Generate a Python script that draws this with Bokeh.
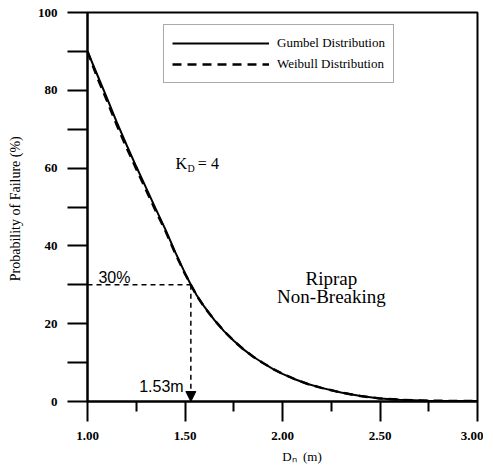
from bokeh.plotting import figure
from bokeh.models import (Range1d, Legend, LegendItem, Label, Arrow, NormalHead,
                          FixedTicker, ColumnDataSource)
from bokeh.embed import file_html
from bokeh.resources import INLINE

# ---- data ----
diam = [1.00, 1.05, 1.10, 1.15, 1.20, 1.25, 1.30, 1.35, 1.40, 1.45, 1.50, 1.53,
        1.56, 1.60, 1.65, 1.70, 1.75, 1.80, 1.85, 1.90, 1.95, 2.00, 2.06, 2.13,
        2.20, 2.30, 2.40, 2.50, 2.60, 2.75, 3.00]
gumbel = [90.0, 84.0, 78.0, 71.8, 66.0, 60.4, 55.0, 49.5, 44.2, 38.4, 33.0, 30.0,
          27.3, 24.3, 21.0, 18.1, 15.6, 13.4, 11.5, 9.9, 8.4, 7.1, 5.8, 4.5,
          3.5, 2.3, 1.4, 0.8, 0.45, 0.2, 0.1]
weibull = [90.0, 83.3, 77.3, 71.1, 65.3, 59.8, 54.4, 49.0, 43.8, 38.1, 32.8, 30.0,
           27.2, 24.2, 21.0, 18.1, 15.6, 13.4, 11.5, 9.9, 8.4, 7.1, 5.8, 4.5,
           3.5, 2.3, 1.4, 0.8, 0.45, 0.2, 0.1]
target_prob = 30.0
target_diam = 1.53
x_ticks = [1.0, 1.5, 2.0, 2.5, 3.0]
x_minor = [1.25, 1.75, 2.25, 2.75]
y_ticks = [0, 20, 40, 60, 80, 100]
y_minor = [10, 30, 50, 70, 90]
x_tick_labels = {1.0: "1.00", 1.5: "1.50", 2.0: "2.00", 2.5: "2.50", 3.0: "3.00"}

SERIF = "Liberation Serif"
SANS = "Liberation Sans"

p = figure(frame_width=390, frame_height=389, output_backend="svg",
           toolbar_location=None, x_range=Range1d(1.0, 3.0), y_range=Range1d(0, 100),
           min_border_left=87, min_border_right=6, min_border_top=12, min_border_bottom=52)
p.background_fill_color = "white"
p.border_fill_color = "white"
p.outline_line_color = "black"
p.outline_line_width = 2
p.xgrid.visible = False
p.ygrid.visible = False

# axes
xa = p.xaxis[0]
xa.ticker = FixedTicker(ticks=x_ticks, minor_ticks=x_minor)
xa.major_label_overrides = x_tick_labels
xa.major_tick_in = 0
xa.major_tick_out = 20
xa.minor_tick_in = 0
xa.minor_tick_out = 10
xa.axis_line_width = 2
xa.major_tick_line_width = 2
xa.minor_tick_line_width = 2
xa.major_label_text_font = SERIF
xa.major_label_text_font_style = "bold"
xa.major_label_text_font_size = "13px"
xa.major_label_text_color = "black"
xa.major_label_standoff = 10
xa.axis_label = "\u00a0" * 12 + "Dₙ\u00a0\u00a0(m)"
xa.axis_label_text_font = SERIF
xa.axis_label_text_font_style = "normal"
xa.axis_label_text_font_size = "13px"
xa.axis_label_text_color = "black"
xa.axis_label_standoff = 6

ya = p.yaxis[0]
ya.ticker = FixedTicker(ticks=y_ticks, minor_ticks=y_minor)
ya.major_tick_in = 0
ya.major_tick_out = 20
ya.minor_tick_in = 0
ya.minor_tick_out = 20
ya.axis_line_width = 2
ya.major_tick_line_width = 2
ya.minor_tick_line_width = 2
ya.major_label_text_font = SERIF
ya.major_label_text_font_style = "bold"
ya.major_label_text_font_size = "13px"
ya.major_label_text_color = "black"
ya.major_label_standoff = 10
ya.axis_label = "Probability of Failure  (%)"
ya.axis_label_text_font = SERIF
ya.axis_label_text_font_style = "normal"
ya.axis_label_text_font_size = "14px"
ya.axis_label_text_color = "black"
ya.axis_label_standoff = 12

src = ColumnDataSource(dict(x=diam, g=gumbel, w=weibull))
r1 = p.line("x", "g", source=src, line_color="black", line_width=2)
r2 = p.line("x", "w", source=src, line_color="black", line_width=2.5, line_dash="9 6")

# guide lines for 30 %
p.line([diam[0], target_diam], [target_prob, target_prob], line_color="black",
       line_width=1.5, line_dash="5 4")
p.add_layout(Arrow(x_start=target_diam, y_start=target_prob, x_end=target_diam, y_end=0,
                   line_color="black", line_width=1.5, line_dash="5 4",
                   end=NormalHead(size=10, fill_color="black", line_color="black")))

legend = Legend(items=[LegendItem(label="Gumbel Distribution", renderers=[r1]),
                       LegendItem(label="Weibull Distribution", renderers=[r2])],
                location=(76, 318), glyph_width=97, glyph_height=20, label_height=20,
                spacing=1, padding=8, margin=0, label_standoff=8,
                label_text_font=SERIF, label_text_font_size="13px",
                label_text_color="black",
                border_line_color="#555555", border_line_width=1,
                background_fill_alpha=1.0)
p.add_layout(legend, "center")

def lab(x, y, t, font, size, align="left", style="normal"):
    p.add_layout(Label(x=x, y=y, text=t, text_font=font, text_font_size=size,
                       text_align=align, text_baseline="alphabetic",
                       text_font_style=style, text_color="black"))

lab(1.451, 61.2, "K", SERIF, "16px")
lab(1.513, 60.0, "D", SERIF, "10px")
lab(1.566, 61.2, "= 4", SERIF, "16px")
lab(1.056, 31.9, "30%", SANS, "16px")
lab(1.265, 3.9, "1.53m", SANS, "16px")
lab(2.251, 31.6, "Riprap", SERIF, "19px", align="center")
lab(2.251, 27.0, "Non-Breaking", SERIF, "19px", align="center")

open("out.html", "w").write(file_html(p, INLINE))
